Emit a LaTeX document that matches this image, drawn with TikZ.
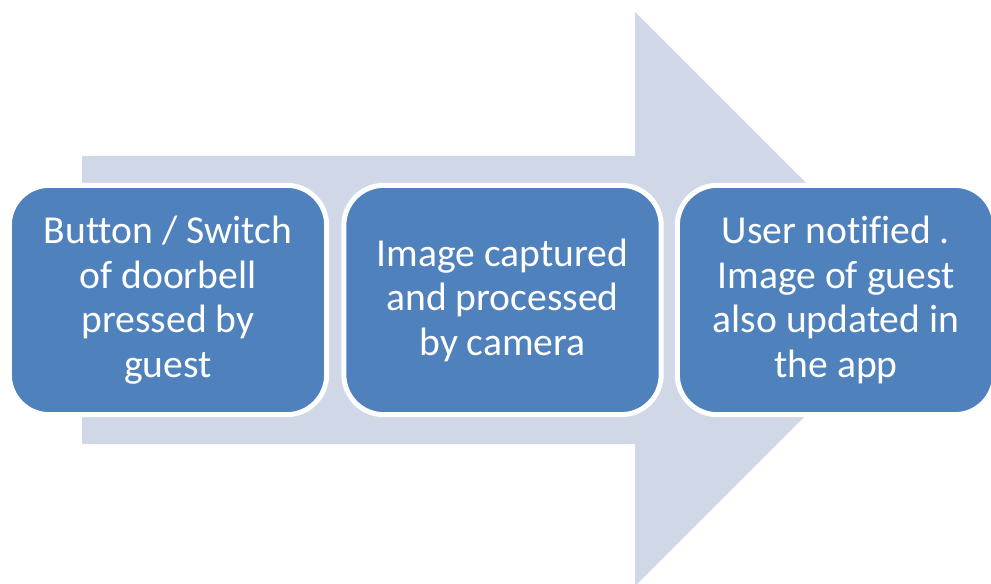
\documentclass[tikz,border=0pt]{standalone}
\usepackage{fontspec}
\setmainfont{Carlito}[Ligatures=NoCommon]
\definecolor{stepblue}{HTML}{4F81BD}
\definecolor{arrowgrey}{HTML}{D0D8E8}
\tikzset{
  stepbox/.style={fill=stepblue, draw=white, line width=3.75pt,
    rounded corners=30pt, minimum width=238pt, minimum height=172pt,
    inner sep=0pt, align=center, text=white,
    font=\fontsize{29.7pt}{33.4pt}\selectfont},
  bigarrow/.style={fill=arrowgrey, draw=none}
}
\begin{document}
\begin{tikzpicture}[x=0.75pt, y=-0.75pt]
  \useasboundingbox (0,0) rectangle (991,584);
  \begin{scope}
    \clip (0,0) rectangle (991,584);
    % broad background arrow
    \path[bigarrow] (82,156) -- (635,156) -- (635,12) -- (922,299)
      -- (635,586) -- (635,444) -- (82,444) -- cycle;
  \end{scope}
  % process steps
  \node[stepbox] (s1) at (168,300) {Button / Switch\\of doorbell\\pressed by\\guest};
  \node[stepbox] (s2) at (502.5,300) {Image captured\\and processed\\by camera};
  \node[stepbox] (s3) at (836,300) {User notified .\\Image of guest\\also updated in\\the app};
\end{tikzpicture}
\end{document}
